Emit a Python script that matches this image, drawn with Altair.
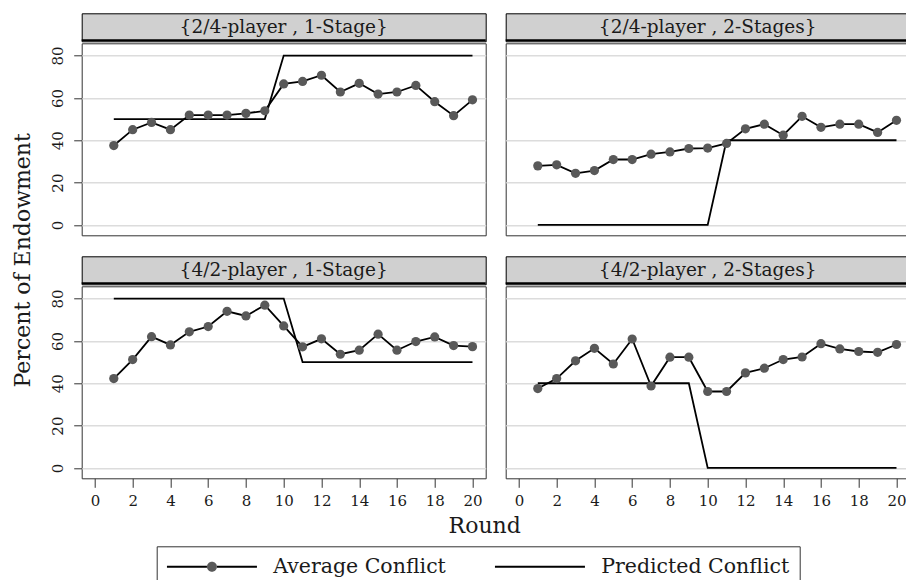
import altair as alt
import pandas as pd

FONT = "DejaVu Serif"
TXT = "#1a1a1a"

rounds = [1, 2, 3, 4, 5, 6, 7, 8, 9, 10, 11, 12, 13, 14, 15, 16, 17, 18, 19, 20]

panel_titles = [
    "{2/4-player , 1-Stage}",
    "{2/4-player , 2-Stages}",
    "{4/2-player , 1-Stage}",
    "{4/2-player , 2-Stages}",
]

avg_24_1 = [37.5, 45.0, 48.4, 45.0, 51.9, 51.9, 51.9, 52.7, 53.9, 66.6,
            67.8, 70.7, 62.8, 66.9, 61.8, 62.8, 65.9, 58.2, 51.6, 59.1]
pred_24_1 = [50, 50, 50, 50, 50, 50, 50, 50, 50, 80,
             80, 80, 80, 80, 80, 80, 80, 80, 80, 80]

avg_24_2 = [27.9, 28.4, 24.4, 25.7, 30.9, 30.9, 33.4, 34.5, 36.1, 36.3,
            38.5, 45.4, 47.6, 42.4, 51.3, 46.1, 47.6, 47.6, 43.7, 49.4]
pred_24_2 = [0, 0, 0, 0, 0, 0, 0, 0, 0, 0,
             40, 40, 40, 40, 40, 40, 40, 40, 40, 40]

avg_42_1 = [42.2, 51.2, 62.0, 58.1, 64.3, 66.8, 74.0, 71.8, 76.9, 67.1,
            57.2, 61.0, 53.7, 55.6, 63.2, 55.6, 59.7, 61.9, 57.8, 57.3]
pred_42_1 = [80, 80, 80, 80, 80, 80, 80, 80, 80, 80,
             50, 50, 50, 50, 50, 50, 50, 50, 50, 50]

avg_42_2 = [37.5, 42.2, 50.6, 56.5, 49.1, 60.9, 38.7, 52.3, 52.3, 36.1,
            36.1, 44.9, 47.1, 51.2, 52.4, 58.7, 56.2, 55.0, 54.6, 58.3]
pred_42_2 = [40, 40, 40, 40, 40, 40, 40, 40, 40, 0,
             0, 0, 0, 0, 0, 0, 0, 0, 0, 0]

series_names = ["Average Conflict", "Predicted Conflict"]
x_ticks = [0, 2, 4, 6, 8, 10, 12, 14, 16, 18, 20]
y_ticks = [0, 20, 40, 60, 80]

W, H, SH = 404, 192, 28

xscale = alt.Scale(domain=[-0.7, 20.7], nice=False, zero=False)
yscale = alt.Scale(domain=[-4.9, 85.8], nice=False, zero=False)

# legend symbol paths (1 unit = 10px at symbol size 400)
PATH_AVG_LINE = ("M-1,-0.1L3,-0.1L3,0.1L-1,0.1Z"
                 "M4,-0.1L8,-0.1L8,0.1L4,0.1Z")
PATH_PRED_LINE = "M-1,-0.1L8,-0.1L8,0.1L-1,0.1Z"
PATH_DOT = "M4,0A0.5,0.5,0,1,1,3,0A0.5,0.5,0,1,1,4,0Z"

LEG_X, LEG_Y = 75, 533
LEG_COMMON = dict(
    title=None, orient="none", legendX=LEG_X, legendY=LEG_Y,
    direction="horizontal", columns=2, symbolSize=400,
    symbolStrokeWidth=0, symbolOpacity=1,
    labelFont=FONT, labelFontSize=20.5, labelOffset=86, labelLimit=400,
    columnPadding=48, padding=10,
)


def make_df(avg, pred):
    return pd.DataFrame({
        "Round": rounds + rounds,
        "value": avg + pred,
        "series": [series_names[0]] * len(avg) + [series_names[1]] * len(pred),
    })


def plot(df, show_x, show_y, with_legend=False):
    if show_x:
        xaxis = alt.Axis(values=x_ticks, title=None, grid=False, domain=False,
                         tickSize=9, tickColor="#333", tickWidth=1,
                         labelFont=FONT, labelFontSize=15, labelColor=TXT,
                         labelPadding=6)
    else:
        xaxis = None
    if show_y:
        yaxis = alt.Axis(values=y_ticks, title=None, grid=True,
                         gridColor="#dcdcdc", gridWidth=1.6, domain=False,
                         tickSize=8, tickColor="#333", labelAngle=270,
                         labelAlign="center", labelBaseline="bottom",
                         labelFont=FONT, labelFontSize=15, labelColor=TXT,
                         labelPadding=8)
    else:
        yaxis = alt.Axis(values=y_ticks, title=None, grid=True,
                         gridColor="#dcdcdc", gridWidth=1.6, domain=False,
                         ticks=False, labels=False)
    base = alt.Chart(df).encode(
        x=alt.X("Round:Q", scale=xscale, axis=xaxis),
        y=alt.Y("value:Q", scale=yscale, axis=yaxis),
    )
    pred = base.transform_filter(alt.datum.series == series_names[1]).mark_line(
        color="black", strokeWidth=1.8)
    avg_line = base.transform_filter(alt.datum.series == series_names[0]).mark_line(
        color="black", strokeWidth=1.8)
    avg_pts = base.transform_filter(alt.datum.series == series_names[0]).mark_point(
        filled=True, color="#595959", size=85, opacity=1)
    layers = [pred, avg_line, avg_pts]
    if with_legend:
        # invisible layers that only carry the legend
        leg_lines = base.mark_point(filled=True, color="black", opacity=0,
                                    size=1).encode(
            shape=alt.Shape(
                "series:N",
                scale=alt.Scale(domain=series_names,
                                range=[PATH_AVG_LINE, PATH_PRED_LINE]),
                legend=alt.Legend(symbolFillColor="black", labelColor=TXT,
                                  strokeColor="#333", **LEG_COMMON),
            )
        )
        leg_dot = base.transform_filter(
            alt.datum.series == series_names[0]
        ).transform_calculate(marker="datum.series").mark_point(
            filled=True, shape=PATH_DOT, opacity=0, size=1
        ).encode(
            fill=alt.Fill(
                "marker:N",
                scale=alt.Scale(domain=[series_names[0]], range=["#595959"]),
                legend=alt.Legend(labelColor="transparent",
                                  strokeColor="transparent", **LEG_COMMON),
            )
        )
        layers += [leg_lines, leg_dot]
    return alt.layer(*layers).properties(
        width=W, height=H,
        view=alt.ViewBackground(fill="white", stroke="#333", strokeWidth=1),
    )


def strip(title):
    t = alt.Chart(pd.DataFrame({"t": [title]})).mark_text(
        font=FONT, fontSize=18.5, color=TXT
    ).encode(text="t:N", x=alt.value(W / 2), y=alt.value(SH / 2))
    r = alt.Chart(pd.DataFrame({"t": [title]})).mark_rule(
        color="black", strokeWidth=2
    ).encode(x=alt.value(0), x2=alt.value(W), y=alt.value(SH - 1))
    return alt.layer(t, r).properties(
        width=W, height=SH,
        view=alt.ViewBackground(fill="#d0d0d0", stroke="black", strokeWidth=1),
    )


def panel(i, avg, pred, show_x, show_y, with_legend=False):
    return alt.vconcat(
        strip(panel_titles[i]),
        plot(make_df(avg, pred), show_x, show_y, with_legend),
        spacing=0,
    )


row1 = alt.hconcat(
    panel(0, avg_24_1, pred_24_1, False, True),
    panel(1, avg_24_2, pred_24_2, False, False),
    spacing=16,
)
row2 = alt.hconcat(
    panel(2, avg_42_1, pred_42_1, True, True, with_legend=True),
    panel(3, avg_42_2, pred_42_2, True, False),
    spacing=16,
    title=alt.Title("Round", orient="bottom", font=FONT, fontSize=22,
                    fontWeight="normal", color=TXT, anchor="middle",
                    offset=7, dx=4),
)

PAD_L, PAD_T = 73.7, 5.3
chart = alt.vconcat(
    row1, row2, spacing=19,
    title=alt.Title("Percent of Endowment", orient="left", font=FONT,
                    fontSize=22, fontWeight="normal", color=TXT,
                    anchor="middle", offset=15, dx=40),
).properties(
    autosize=alt.AutoSizeParams(type="none"),
    padding={"left": PAD_L, "top": PAD_T,
             "right": 898 - PAD_L, "bottom": 572 - PAD_T},
).configure_view(stroke="#333").configure(background="white")

chart.save("out.html", embed_options={"renderer": "svg", "actions": False})
